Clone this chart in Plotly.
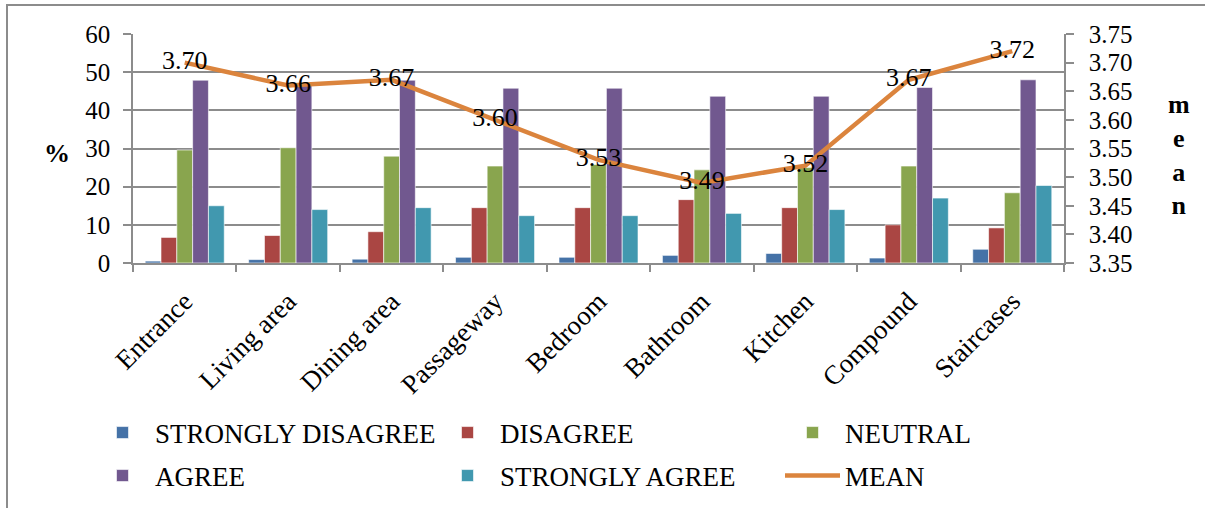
import plotly.graph_objects as go

categories = ["Entrance", "Living area", "Dining area", "Passageway", "Bedroom",
              "Bathroom", "Kitchen", "Compound", "Staircases"]
strongly_disagree = [0.5, 0.9, 1.0, 1.5, 1.5, 2.0, 2.5, 1.3, 3.6]
disagree = [6.7, 7.2, 8.2, 14.5, 14.5, 16.6, 14.5, 10.0, 9.2]
neutral = [29.6, 30.2, 28.0, 25.4, 25.8, 24.4, 25.0, 25.4, 18.4]
agree = [47.9, 46.5, 47.9, 45.8, 45.8, 43.7, 43.7, 46.0, 48.0]
strongly_agree = [15.0, 14.0, 14.5, 12.4, 12.4, 13.0, 14.0, 17.0, 20.3]
mean = [3.70, 3.66, 3.67, 3.60, 3.53, 3.49, 3.52, 3.67, 3.72]

bar_series = [
    ("STRONGLY DISAGREE", strongly_disagree, "#4572A7", "legend"),
    ("DISAGREE", disagree, "#AA4643", "legend"),
    ("NEUTRAL", neutral, "#89A54E", "legend"),
    ("AGREE", agree, "#71588F", "legend2"),
    ("STRONGLY AGREE", strongly_agree, "#4198AF", "legend2"),
]

FONT = "Times New Roman"
GRID = "#8c8c8c"

fig = go.Figure()
for name, vals, color, leg in bar_series:
    fig.add_trace(go.Bar(
        x=categories, y=vals, name=name, legend=leg,
        marker=dict(color=color, line=dict(color="rgba(255,255,255,0.6)", width=1)),
    ))

fig.add_trace(go.Scatter(
    x=categories, y=mean, name="MEAN", yaxis="y2", legend="legend2",
    mode="lines+text", line=dict(color="#DB843D", width=4.5),
    text=[f"{v:.2f}" for v in mean], textposition="middle center",
    textfont=dict(family=FONT, size=26, color="black"), cliponaxis=False,
))

W, H = 1205, 508
L, R, T, B = 133, 141, 34, 245
pw, ph = W - L - R, H - T - B

def px(x):
    return (x - L) / pw

def py(y):
    return (H - B - y) / ph

legend_common = dict(
    orientation="h", xanchor="left", yanchor="middle",
    font=dict(family=FONT, size=27, color="black"),
    itemwidth=55, entrywidth=275, entrywidthmode="pixels", bgcolor="rgba(0,0,0,0)",
)

fig.update_layout(
    width=W, height=H,
    margin=dict(l=L, r=R, t=T, b=B, autoexpand=False),
    paper_bgcolor="white", plot_bgcolor="white",
    font=dict(family=FONT, size=25, color="black"),
    barmode="group", bargap=0.236, bargroupgap=0,
    xaxis=dict(
        type="category", tickangle=-45, tickson="boundaries",
        ticks="outside", ticklen=7, tickcolor=GRID, tickwidth=1.5,
        showline=True, linecolor=GRID, linewidth=1.5, showgrid=False,
        tickfont=dict(family=FONT, size=27), ticklabelstandoff=10,
    ),
    yaxis=dict(
        range=[0, 60], dtick=10, ticks="outside", ticklen=8, tickcolor=GRID, tickwidth=1.5,
        showline=True, linecolor=GRID, linewidth=1.5,
        showgrid=True, gridcolor=GRID, gridwidth=1.5, zeroline=False,
        tickfont=dict(family=FONT, size=25), ticklabelstandoff=8,
    ),
    yaxis2=dict(
        range=[3.35, 3.75], dtick=0.05, tickformat=".2f", overlaying="y", side="right",
        ticks="outside", ticklen=8, tickcolor=GRID, tickwidth=1.5,
        showline=True, linecolor=GRID, linewidth=1.5, showgrid=False, zeroline=False,
        tickfont=dict(family=FONT, size=25), ticklabelstandoff=10,
    ),
    legend=dict(x=px(90), y=py(433), **legend_common),
    legend2=dict(x=px(90), y=py(476), **legend_common),
    annotations=[
        dict(text="<b>%</b>", xref="paper", yref="paper", x=px(57), y=py(153),
             xanchor="center", yanchor="middle",
             showarrow=False, font=dict(family=FONT, size=26, color="black")),
        dict(text="<b>m<br>e<br>a<br>n</b>", xref="paper", yref="paper", x=px(1179), y=py(155),
             xanchor="center", yanchor="middle",
             showarrow=False, font=dict(family=FONT, size=26, color="black")),
    ],
    shapes=[
        dict(type="rect", xref="paper", yref="paper",
             x0=px(7), x1=px(1215), y0=py(520), y1=py(5),
             line=dict(color="#8c8c8c", width=2), fillcolor="rgba(0,0,0,0)", layer="below"),
    ],
)

fig.write_html("out.html")
